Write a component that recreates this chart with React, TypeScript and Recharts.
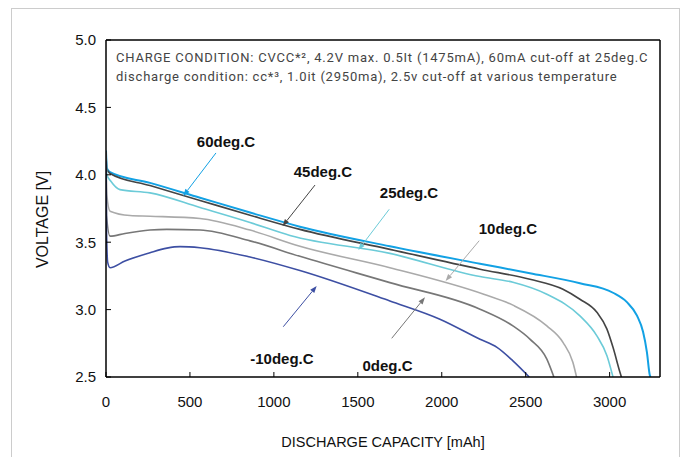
import React from "react";
import { LineChart, Line, XAxis, YAxis, ReferenceLine, ReferenceDot } from "recharts";

// discharge curves, [capacity mAh, voltage V]
const curve60: [number, number][] = [
  [0, 4.18], [5, 4.05], [24, 4.02], [262, 3.94], [560, 3.83], [858, 3.72], [1155, 3.615],
  [1691, 3.47], [2228, 3.34], [2525, 3.27], [2823, 3.195], [3020, 3.125], [3103, 3.055],
  [3163, 2.955], [3199, 2.835], [3222, 2.685], [3240, 2.51], [3245, 2.5],
];
const curve45: [number, number][] = [
  [0, 4.17], [5, 4.04], [24, 4.01], [262, 3.92], [560, 3.81], [858, 3.7], [1155, 3.595],
  [1691, 3.447], [2228, 3.3], [2525, 3.225], [2722, 3.151], [2823, 3.077], [2924, 2.98],
  [2984, 2.855], [3020, 2.72], [3061, 2.537], [3070, 2.5],
];
const curve25: [number, number][] = [
  [0, 4.17], [5, 4.0], [30, 3.95], [83, 3.89], [262, 3.866], [560, 3.757], [858, 3.646],
  [1096, 3.55], [1691, 3.417], [2228, 3.245], [2424, 3.203], [2626, 3.114], [2823, 2.953],
  [2924, 2.805], [2984, 2.658], [3020, 2.5],
];
const curve10: [number, number][] = [
  [0, 4.17], [5, 3.85], [24, 3.73], [143, 3.698], [262, 3.693], [560, 3.676], [858, 3.59],
  [1155, 3.47], [1691, 3.311], [2250, 3.114], [2424, 3.033], [2626, 2.879], [2722, 2.757],
  [2781, 2.609], [2803, 2.5],
];
const curve0: [number, number][] = [
  [0, 4.17], [3, 3.7], [24, 3.545], [113, 3.565], [262, 3.59], [363, 3.595], [560, 3.59],
  [858, 3.51], [1155, 3.395], [1691, 3.2], [2228, 3.003], [2424, 2.879], [2525, 2.781],
  [2626, 2.633], [2668, 2.5],
];
const curveM10: [number, number][] = [
  [0, 4.1], [3, 3.6], [10, 3.35], [24, 3.311], [113, 3.36], [262, 3.422], [363, 3.456],
  [441, 3.467], [560, 3.459], [858, 3.39], [1155, 3.29], [1691, 3.064], [1989, 2.929],
  [2228, 2.78], [2329, 2.72], [2424, 2.62], [2521, 2.5],
];

const xTicks = [0, 500, 1000, 1500, 2000, 2500, 3000];
const yTicks = [2.5, 3.0, 3.5, 4.0, 4.5, 5.0];

const series = [
  { name: "60deg.C", pts: curve60, color: "#12a1e4", width: 2 },
  { name: "45deg.C", pts: curve45, color: "#444444", width: 1.6 },
  { name: "25deg.C", pts: curve25, color: "#6ccbd8", width: 1.6 },
  { name: "10deg.C", pts: curve10, color: "#aaaaaa", width: 1.6 },
  { name: "0deg.C", pts: curve0, color: "#777777", width: 1.6 },
  { name: "-10deg.C", pts: curveM10, color: "#3d4fa3", width: 1.6 },
];

// label centre and arrow (from -> to), in data units
const notes = [
  { text: "60deg.C", at: [715, 4.243], from: [655, 4.162], to: [460, 3.843], color: "#12a1e4" },
  { text: "45deg.C", at: [1292, 4.023], from: [1245, 3.924], to: [1052, 3.62], color: "#444444" },
  { text: "25deg.C", at: [1805, 3.865], from: [1687, 3.744], to: [1503, 3.442], color: "#6ccbd8" },
  { text: "10deg.C", at: [2394, 3.603], from: [2223, 3.511], to: [2023, 3.212], color: "#aaaaaa" },
  { text: "0deg.C", at: [1677, 2.582], from: [1702, 2.787], to: [1900, 3.091], color: "#777777" },
  { text: "-10deg.C", at: [1048, 2.639], from: [1056, 2.873], to: [1255, 3.175], color: "#3d4fa3" },
];

const font = "'Liberation Sans', Arial, sans-serif";

function Arrow(props: any) {
  const { x1, y1, x2, y2, stroke } = props;
  const ang = Math.atan2(y2 - y1, x2 - x1);
  const len = 7;
  const half = 2.6;
  const bx = x2 - len * Math.cos(ang);
  const by = y2 - len * Math.sin(ang);
  const px = -Math.sin(ang) * half;
  const py = Math.cos(ang) * half;
  return (
    <g>
      <line x1={x1} y1={y1} x2={bx} y2={by} stroke={stroke} strokeWidth={1} />
      <polygon points={`${x2},${y2} ${bx + px},${by + py} ${bx - px},${by - py}`} fill={stroke} />
    </g>
  );
}

export default function App() {
  return (
    <div style={{ position: "absolute", left: 0, top: 0, width: 687, height: 457, overflow: "hidden", background: "#fff" }}>
      <div
        style={{
          position: "absolute",
          left: 11,
          top: 8,
          width: 667,
          height: 470,
          border: "1px solid #cccccc",
        }}
      />
      <LineChart width={687} height={457} margin={{ top: 40, right: 27, bottom: 0, left: 0 }}>
        <XAxis
          dataKey="mah"
          type="number"
          domain={[0, 3300]}
          ticks={xTicks}
          allowDataOverflow
          height={80}
          tickSize={-5}
          tickMargin={24}
          axisLine={{ stroke: "#000", strokeWidth: 1.5 }}
          tickLine={{ stroke: "#000" }}
          tick={{ fontSize: 15, fill: "#111", fontFamily: font }}
          label={{
            value: "DISCHARGE CAPACITY  [mAh]",
            position: "insideBottom",
            offset: 10,
            style: { fontSize: 14.5, fill: "#111", fontFamily: font, whiteSpace: "pre" },
          }}
        />
        <YAxis
          type="number"
          domain={[2.5, 5]}
          ticks={yTicks}
          allowDataOverflow
          width={106}
          tickSize={-5}
          tickMargin={15}
          tickFormatter={(v: number) => v.toFixed(1)}
          axisLine={{ stroke: "#000", strokeWidth: 1.5 }}
          tickLine={{ stroke: "#000" }}
          tick={{ fontSize: 15, fill: "#111", fontFamily: font }}
          label={{
            value: "VOLTAGE  [V]",
            angle: -90,
            position: "insideLeft",
            offset: 42,
            dy: 11,
            style: { fontSize: 16, fill: "#111", fontFamily: font, textAnchor: "middle", whiteSpace: "pre" },
          }}
        />
        <ReferenceLine y={5} stroke="#000" strokeWidth={1.5} />
        <ReferenceLine x={3300} stroke="#000" strokeWidth={1.5} />
        {series.map((s) => (
          <Line
            key={s.name}
            data={s.pts.map(([mah, v]) => ({ mah, v }))}
            dataKey="v"
            type="monotone"
            stroke={s.color}
            strokeWidth={s.width}
            dot={false}
            activeDot={false}
            isAnimationActive={false}
          />
        ))}
        {notes.map((n) => (
          <ReferenceLine
            key={"a" + n.text}
            segment={[
              { x: n.from[0], y: n.from[1] },
              { x: n.to[0], y: n.to[1] },
            ]}
            stroke={n.color}
            shape={(p: any) => <Arrow {...p} stroke={n.color} />}
          />
        ))}
        {notes.map((n) => (
          <ReferenceDot
            key={"t" + n.text}
            x={n.at[0]}
            y={n.at[1]}
            r={0}
            fill="none"
            stroke="none"
            label={{
              value: n.text,
              position: "center",
              style: { fontSize: 15, fontWeight: "bold", fill: "#111", fontFamily: font },
            }}
          />
        ))}
      </LineChart>
      <div
        style={{
          position: "absolute",
          left: 116,
          top: 48,
          fontFamily: "Roboto, sans-serif",
          fontSize: 13,
          letterSpacing: "0.78px",
          lineHeight: "19px",
          color: "#444",
          whiteSpace: "nowrap",
        }}
      >
        <div>CHARGE CONDITION: CVCC*², 4.2V max. 0.5It (1475mA), 60mA cut-off at 25deg.C</div>
        <div>discharge condition: cc*³, 1.0it (2950ma), 2.5v cut-off at various temperature</div>
      </div>
    </div>
  );
}
